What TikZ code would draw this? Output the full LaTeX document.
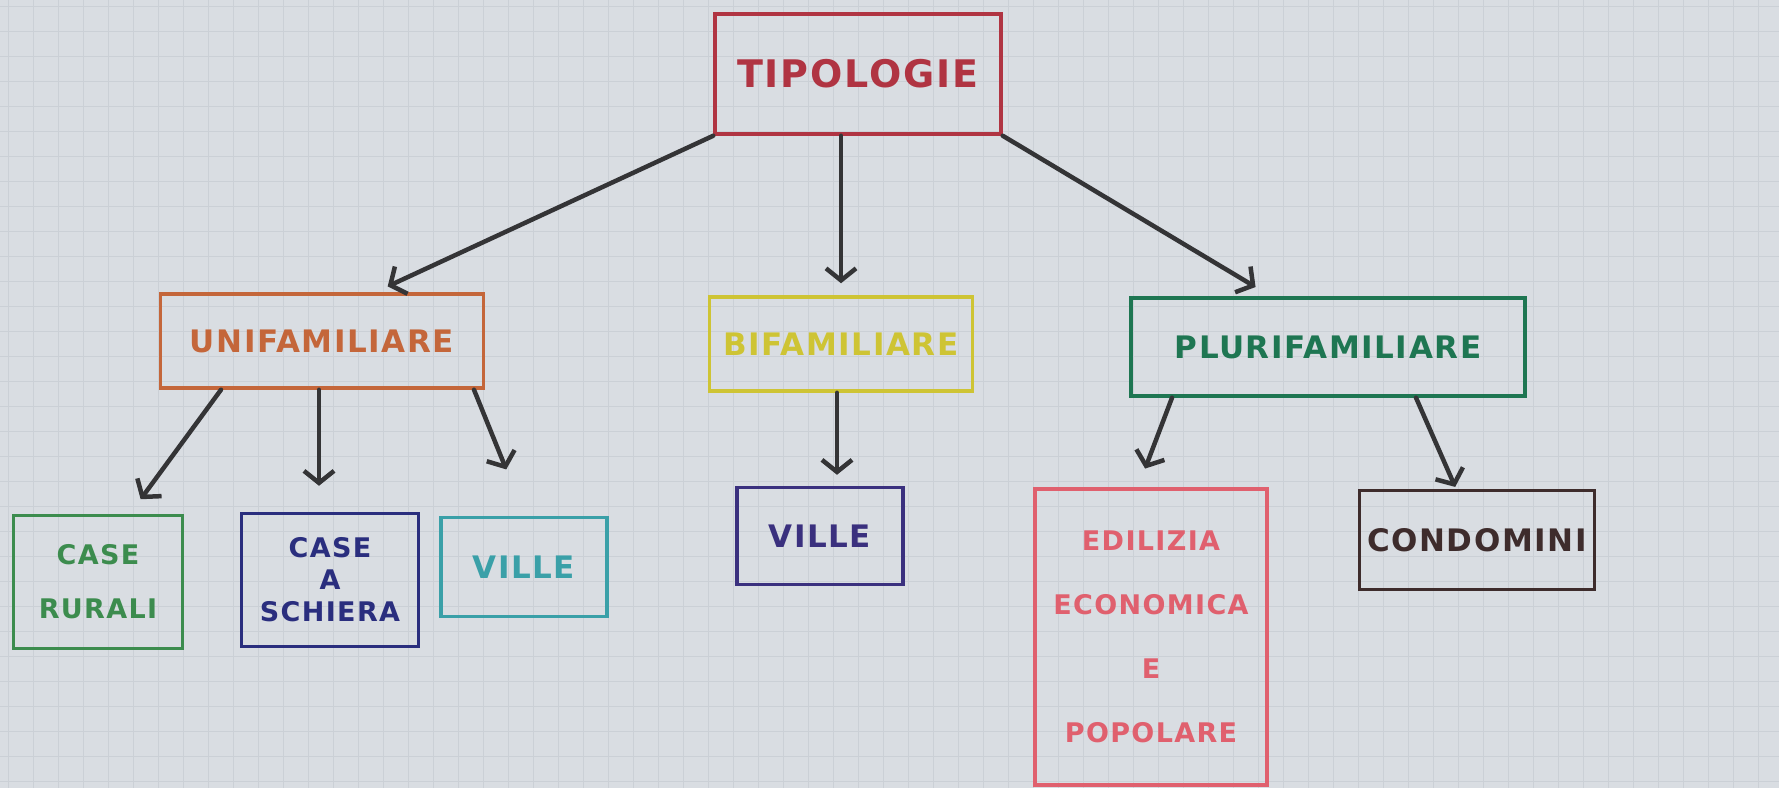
\documentclass[tikz,border=0pt]{standalone}
\usepackage{fontspec}
\setmainfont{DejaVu Sans}
\newfontfamily\hand[LetterSpace=5]{DejaVu Sans}
\usetikzlibrary{arrows.meta}
\definecolor{paper}{RGB}{217,221,226}
\definecolor{gridc}{RGB}{203,208,214}
\definecolor{ink}{RGB}{52,52,54}
\definecolor{ctip}{RGB}{176,52,66}
\definecolor{cuni}{RGB}{196,102,58}
\definecolor{cbi}{RGB}{206,196,52}
\definecolor{cpluri}{RGB}{30,118,82}
\definecolor{crur}{RGB}{60,140,78}
\definecolor{csch}{RGB}{42,46,126}
\definecolor{cvil}{RGB}{58,160,168}
\definecolor{cvil2}{RGB}{58,48,126}
\definecolor{cedil}{RGB}{224,96,110}
\definecolor{ccond}{RGB}{62,44,44}
\tikzset{
  box/.style={draw, rectangle, line width=3.5pt, inner sep=0pt, align=center, font=\hand\bfseries\fontsize{31}{36}\selectfont},
  conn/.style={draw=ink, line width=4.5pt, line cap=round, -{Straight Barb[length=12pt,width=30pt,line width=4.5pt]}},
}
\begin{document}
\begin{tikzpicture}[x=1pt,y=-1pt]
\useasboundingbox (0,0) rectangle (1779,788);
\fill[paper] (0,0) rectangle (1779,788);
\foreach \i in {0,...,71} { \draw[gridc, line width=0.8pt] (\i*25+8,0) -- (\i*25+8,788); }
\foreach \j in {0,...,31} { \draw[gridc, line width=0.8pt] (0,\j*25+6) -- (1779,\j*25+6); }

\node[box, draw=ctip, text=ctip, minimum width=286, minimum height=120, font=\hand\bfseries\fontsize{38}{44}\selectfont] (tip) at (858,74) {TIPOLOGIE};
\node[box, draw=cuni, text=cuni, minimum width=323, minimum height=94] (uni) at (322,341) {UNIFAMILIARE};
\node[box, draw=cbi, text=cbi, minimum width=263, minimum height=94] (bi) at (841,344) {BIFAMILIARE};
\node[box, draw=cpluri, text=cpluri, minimum width=394, minimum height=98] (pluri) at (1328,347) {PLURIFAMILIARE};
\node[box, draw=crur, text=crur, minimum width=169, minimum height=133, font=\hand\bfseries\fontsize{27}{32}\selectfont] (rur) at (98,582) {CASE\\[22pt]RURALI};
\node[box, draw=csch, text=csch, minimum width=177, minimum height=133, font=\hand\bfseries\fontsize{27}{32}\selectfont] (sch) at (330,580) {CASE\\A\\SCHIERA};
\node[box, draw=cvil, text=cvil, minimum width=166, minimum height=99] (vil1) at (524,567) {VILLE};
\node[box, draw=cvil2, text=cvil2, minimum width=166, minimum height=97] (vil2) at (820,536) {VILLE};
\node[box, draw=cedil, text=cedil, minimum width=232, minimum height=296, font=\hand\bfseries\fontsize{27}{32}\selectfont] (edil) at (1151,637) {EDILIZIA\\[32pt]ECONOMICA\\[32pt]E\\[32pt]POPOLARE};
\node[box, draw=ccond, text=ccond, minimum width=235, minimum height=99] (cond) at (1477,540) {CONDOMINI};

\draw[conn, shorten >=14pt] (tip.south west) -- ([xshift=53pt]uni.north);
\draw[conn, shorten >=12pt] ([xshift=-17pt]tip.south) -- (bi.north);
\draw[conn, shorten >=18pt] (tip.south east) -- ([xshift=-57pt]pluri.north);
\draw[conn, shorten >=18pt] ([xshift=-101pt]uni.south) -- ([xshift=32pt]rur.north);
\draw[conn, shorten >=26pt] ([xshift=-3pt]uni.south) -- ([xshift=-11pt]sch.north);
\draw[conn, shorten >=50pt] ([xshift=152pt]uni.south) -- ([xshift=1pt]vil1.north);
\draw[conn, shorten >=11pt] ([xshift=-4pt]bi.south) -- ([xshift=17pt]vil2.north);
\draw[conn, shorten >=20pt] ([xshift=-156pt]pluri.south) -- ([xshift=-13pt]edil.north);
\draw[conn, shorten >=2pt] ([xshift=88pt]pluri.south) -- ([xshift=-21pt]cond.north);
\end{tikzpicture}
\end{document}
